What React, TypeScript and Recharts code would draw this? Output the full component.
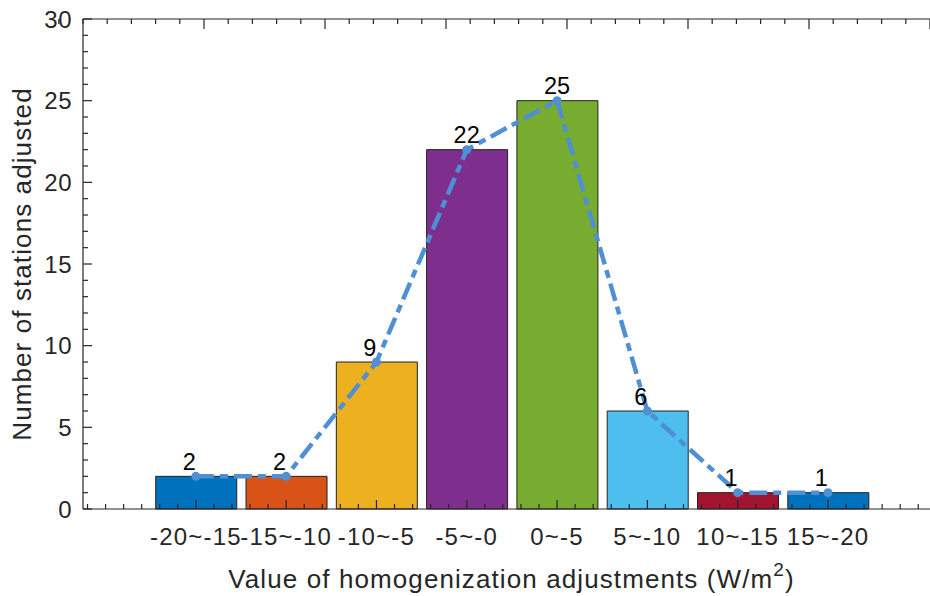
import React from 'react';
import { ComposedChart, Bar, Line, XAxis, YAxis, Cell, LabelList } from 'recharts';

// bins of the adjustment (W/m2), one bar per bin
const binLabels = ['-20~-15', '-15~-10', '-10~-5', '-5~-0', '0~-5', '5~-10', '10~-15', '15~-20'];
const binIndex = [1, 2, 3, 4, 5, 6, 7, 8];
const stationCounts = [2, 2, 9, 22, 25, 6, 1, 1];
const barColors = ['#0072BD', '#D95319', '#EDB120', '#7E2F8E', '#77AC30', '#4DBEEE', '#A2142F', '#0072BD'];

const yMajorTicks = [0, 5, 10, 15, 20, 25, 30];
const yAllTicks = Array.from({ length: 31 }, (_, i) => i);
const xAllTicks = Array.from({ length: 47 }, (_, i) => Math.round((-0.2 + i * 0.2) * 10) / 10);

const data = binIndex.map((x, i) => ({ x, label: binLabels[i], count: stationCounts[i] }));

const X_DOMAIN: [number, number] = [-0.25, 9.13];
const FONT = '"Liberation Sans", Arial, Helvetica, sans-serif';
const AXIS = '#262626';
const LINE = '#4f8fd4';

const isMajorX = (v: number) => binIndex.some(b => Math.abs(b - v) < 1e-6);

const BottomTick = (props: any) => {
    const { x, y, payload } = props;
    const v = payload.value;
    const major = isMajorX(v);
    const idx = binIndex.findIndex(b => Math.abs(b - v) < 1e-6);
    return (
        <g>
            <line x1={x} y1={y} x2={x} y2={y - (major ? 9 : 5)} stroke={AXIS} strokeWidth={1.2} />
            {major && (
                <text x={x} y={y + 36} textAnchor="middle" fontSize={24} letterSpacing={1.2} fill={AXIS} fontFamily={FONT}>
                    {binLabels[idx]}
                </text>
            )}
        </g>
    );
};

const TopTick = (props: any) => {
    const { x, y, payload } = props;
    const major = isMajorX(payload.value);
    return <line x1={x} y1={y} x2={x} y2={y + (major ? 10 : 5)} stroke={AXIS} strokeWidth={1.2} />;
};

const LeftTick = (props: any) => {
    const { x, y, payload } = props;
    const v = payload.value;
    const major = yMajorTicks.includes(v);
    return (
        <g>
            <line x1={x} y1={y} x2={x + (major ? 9 : 5)} y2={y} stroke={AXIS} strokeWidth={1.2} />
            {major && (
                <text x={x - 11} y={y + 8.5} textAnchor="end" fontSize={24} letterSpacing={0.5} fill={AXIS} fontFamily={FONT}>
                    {v}
                </text>
            )}
        </g>
    );
};

const ValueLabel = (props: any) => {
    const { x, y, width, value } = props;
    return (
        <text x={x + width / 2 - width / 6} y={y - 6.5} textAnchor="start" fontSize={23.5} fill="#000" fontFamily={FONT}>
            {value}
        </text>
    );
};

const YTitle = (props: any) => {
    const { viewBox } = props;
    const cx = viewBox.x + viewBox.width - 61;
    const cy = viewBox.y + viewBox.height / 2;
    return (
        <text x={cx} y={cy} transform={`rotate(-90, ${cx}, ${cy})`} textAnchor="middle" dominantBaseline="central" fontSize={26} letterSpacing={1.1} fill={AXIS} fontFamily={FONT}>
            Number of stations adjusted
        </text>
    );
};

const XTitle = (props: any) => {
    const { viewBox } = props;
    const cx = viewBox.x + viewBox.width / 2 + 5;
    return (
        <text x={cx} y={viewBox.y + 79} textAnchor="middle" fontSize={26} letterSpacing={1.1} fill={AXIS} fontFamily={FONT}>
            Value of homogenization adjustments (W/m
            <tspan fontSize={19} dy={-12}>2</tspan>
            <tspan dy={12}>)</tspan>
        </text>
    );
};

const axisLine = { stroke: AXIS, strokeWidth: 1.2 };

export default function App() {
    return (
        <div style={{ position: 'absolute', left: 0, top: 0, width: 930, height: 596, background: '#fff' }}>
            <ComposedChart width={930} height={596} data={data} margin={{ top: 18, right: 0, bottom: 0, left: 0 }}>
                <XAxis
                    xAxisId="main"
                    dataKey="x"
                    type="number"
                    domain={X_DOMAIN}
                    allowDataOverflow
                    ticks={xAllTicks}
                    interval={0}
                    height={87}
                    tickSize={0}
                    tickMargin={0}
                    tickLine={false}
                    axisLine={axisLine}
                    tick={<BottomTick />}
                    label={<XTitle />}
                />
                <XAxis
                    xAxisId="top"
                    orientation="top"
                    type="number"
                    domain={X_DOMAIN}
                    allowDataOverflow
                    ticks={xAllTicks}
                    interval={0}
                    height={1}
                    tickSize={0}
                    tickMargin={0}
                    tickLine={false}
                    axisLine={axisLine}
                    tick={<TopTick />}
                />
                <YAxis
                    yAxisId="main"
                    type="number"
                    domain={[0, 30]}
                    ticks={yAllTicks}
                    interval={0}
                    width={83}
                    tickSize={0}
                    tickMargin={0}
                    tickLine={false}
                    axisLine={axisLine}
                    tick={<LeftTick />}
                    label={<YTitle />}
                />

                <Bar xAxisId="main" yAxisId="main" dataKey="count" barSize={81} stroke="#222" strokeWidth={1} isAnimationActive={false}>
                    {data.map((d, i) => (
                        <Cell key={`bar-${i}`} fill={barColors[i]} />
                    ))}
                    <LabelList dataKey="count" content={<ValueLabel />} />
                </Bar>
                <Line
                    xAxisId="main"
                    yAxisId="main"
                    dataKey="count"
                    stroke={LINE}
                    strokeWidth={4.5}
                    strokeDasharray="18 6 8 6"
                    dot={{ r: 4.5, fill: LINE, stroke: 'none', strokeDasharray: '' }}
                    activeDot={false}
                    isAnimationActive={false}
                />
            </ComposedChart>
        </div>
    );
}
